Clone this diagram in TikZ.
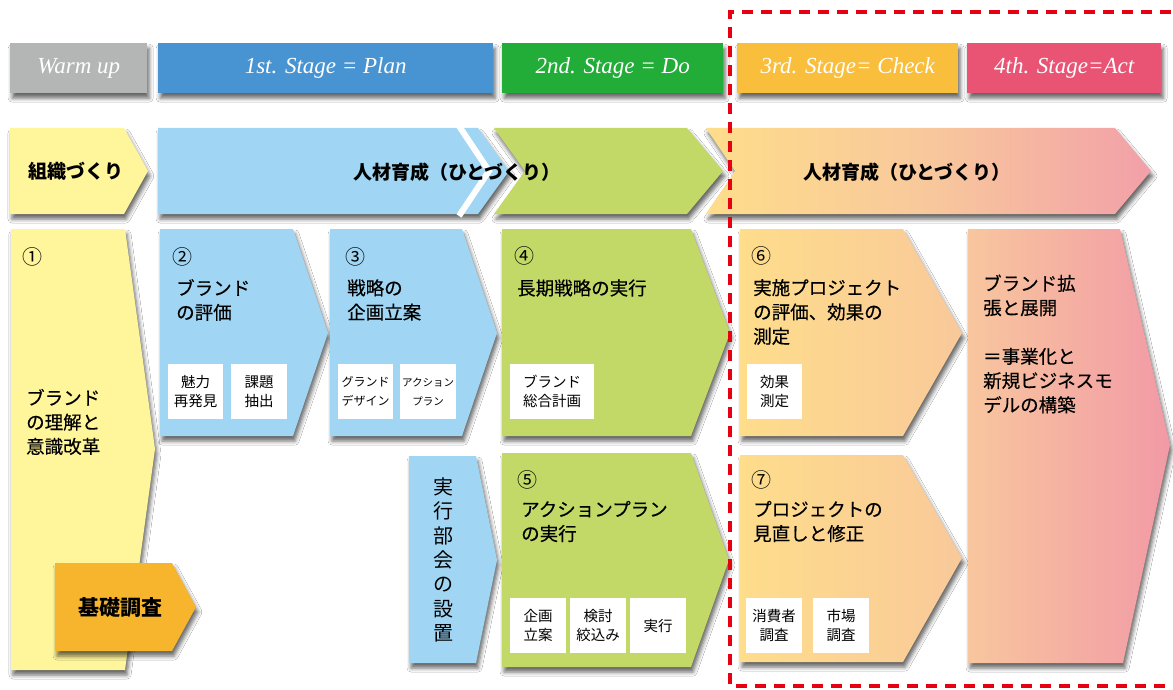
\documentclass[tikz,border=0pt]{standalone}
\usepackage{fontspec}
\setmainfont{Liberation Serif}
\newfontfamily\jp{Noto Sans CJK JP}
\newfontfamily\jpm{Noto Sans CJK JP}[FakeBold=0.35]
\usetikzlibrary{shadows.blur}
\definecolor{hgray}{HTML}{B4B5B5}
\definecolor{hblue}{HTML}{4893D1}
\definecolor{hgreen}{HTML}{22AC38}
\definecolor{horange}{HTML}{F9BE3B}
\definecolor{hpink}{HTML}{E95475}
\definecolor{cyellow}{HTML}{FFF59B}
\definecolor{cblue}{HTML}{A0D6F3}
\definecolor{cgreen}{HTML}{C2D867}
\definecolor{corange}{HTML}{F7B52D}
\definecolor{gyel}{HTML}{FEDD8B}
\definecolor{gmid}{HTML}{F8C89C}
\definecolor{gpink}{HTML}{F2A0A8}
\definecolor{gpeach}{HTML}{F9C99A}
\definecolor{gpeach2}{HTML}{F8C69E}
\definecolor{gpink2}{HTML}{F29AA6}
\definecolor{dashred}{HTML}{E60012}
\begin{document}
\begin{tikzpicture}[x=1pt,y=-1pt,
  shd/.style={blur shadow={shadow xshift=2pt,shadow yshift=-5pt,shadow blur radius=4pt,shadow opacity=60}},
  hdrbox/.style={shd,minimum height=50pt,anchor=north west,inner sep=0pt,text=white,font=\itshape\fontsize{23}{27}\selectfont},
  bandtxt/.style={inner sep=0pt,font=\jp\bfseries\fontsize{19}{23}\selectfont},
  numtxt/.style={anchor=west,inner sep=0pt,font=\jp\fontsize{20}{24}\selectfont},
  ttl/.style={anchor=west,inner sep=0pt,align=left,font=\jpm\fontsize{18.5}{24.3}\selectfont},
  wbox/.style={fill=white,inner sep=0pt,anchor=north west,align=center,minimum height=55pt,font=\jp\fontsize{14.5}{19}\selectfont},
  reddash/.style={draw=dashred,line width=4.5pt,dash pattern=on 11pt off 8pt}
]
\useasboundingbox (0,0) rectangle (1173,690);
\fill[white] (0,0) rectangle (1173,690);

% header row
\node[hdrbox,fill=hgray,minimum width=137pt] (hwarm) at (10,43) {\raisebox{-1.5pt}{Warm up}};
\node[hdrbox,fill=hblue,minimum width=335pt] (hplan) at (158,43) {\raisebox{-1.5pt}{1st. Stage = Plan}};
\node[hdrbox,fill=hgreen,minimum width=221pt] (hdo) at (502,43) {\raisebox{-1.5pt}{2nd. Stage = Do}};
\node[hdrbox,fill=horange,minimum width=221pt] (hcheck) at (737,43) {\raisebox{-1.5pt}{3rd. Stage= Check}};
\node[hdrbox,fill=hpink,minimum width=194pt] (hact) at (967,43) {\raisebox{-1.5pt}{4th. Stage=Act}};

% band row
\path[shd,fill=cyellow] (10,128) -- (124,128) -- (148,171) -- (124,214) -- (10,214) -- cycle;
\node[bandtxt] (soshiki) at (76,171) {組織づくり};
\path[shd,fill=cgreen] (494,128) -- (687,128) -- (723,171) -- (687,214) -- (494,214) -- (525,171) -- cycle;
\path[shd,fill=cblue] (158,128) -- (478,128) -- (509,171) -- (478,214) -- (158,214) -- cycle;
\draw[white,line width=6pt] (459,126) -- (489,171) -- (459,216);
\path[shd,left color=gyel,right color=gpink,middle color=gmid] (706,128) -- (1115,128) -- (1151,171) -- (1115,214) -- (706,214) -- (735,171) -- cycle;
\node[bandtxt] (jinzai1) at (457,172) {人材育成（ひとづくり）};
\node[bandtxt] (jinzai2) at (907,172) {人材育成（ひとづくり）};

% column 1
\path[shd,fill=cyellow] (11,229) -- (125,229) -- (155,449) -- (125,670) -- (11,670) -- cycle;
\node[numtxt] (n1) at (22,257) {①};
\node[ttl] (t1) at (26,422) {ブランド\\の理解と\\意識改革};
\path[shd,fill=corange] (55,563) -- (172,563) -- (196,607) -- (172,651) -- (55,651) -- cycle;
\node[inner sep=0pt,font=\jp\bfseries\fontsize{21}{25}\selectfont] (kiso) at (120,608) {基礎調査};

% box 2
\path[shd,fill=cblue] (160,229) -- (293,229) -- (328,333) -- (293,436) -- (160,436) -- cycle;
\node[numtxt] (n2) at (172,257) {②};
\node[ttl] (t2) at (176,300) {ブランド\\の評価};
\node[wbox,minimum width=55pt] (w21) at (168,364) {魅力\\再発見};
\node[wbox,minimum width=56pt] (w22) at (231,364) {課題\\抽出};

% box 3
\path[shd,fill=cblue] (330,229) -- (462,229) -- (497,333) -- (462,436) -- (330,436) -- cycle;
\node[numtxt] (n3) at (345,257) {③};
\node[ttl] (t3) at (347,300) {戦略の\\企画立案};
\node[wbox,minimum width=55pt,font=\jp\fontsize{12}{19}\selectfont] (w31) at (338,364) {グランド\\デザイン};
\node[wbox,minimum width=56pt,font=\jp\fontsize{10.5}{19}\selectfont] (w32) at (400,364) {アクション\\プラン};

% bukai
\path[shd,fill=cblue] (409,456) -- (476,456) -- (497,560) -- (476,663) -- (409,663) -- cycle;
\node[inner sep=0pt,align=center,font=\jp\fontsize{20}{24.3}\selectfont] (bukai) at (443,560) {実\\行\\部\\会\\の\\設\\置};

% box 4
\path[shd,fill=cgreen] (502,229) -- (691,229) -- (730,333) -- (691,436) -- (502,436) -- cycle;
\node[numtxt] (n4) at (514,256) {④};
\node[ttl] (t4) at (517,288) {長期戦略の実行};
\node[wbox,minimum width=84pt] (w41) at (510,364) {ブランド\\総合計画};

% box 5
\path[shd,fill=cgreen] (502,453) -- (691,453) -- (729,560) -- (691,667) -- (502,667) -- cycle;
\node[numtxt] (n5) at (517,480) {⑤};
\node[ttl] (t5) at (521,521.5) {アクションプラン\\の実行};
\node[wbox,minimum width=56pt] (w51) at (510,598) {企画\\立案};
\node[wbox,minimum width=56pt] (w52) at (570,598) {検討\\絞込み};
\node[wbox,minimum width=56pt] (w53) at (630,598) {実行};

% box 6
\path[shd,left color=gyel,right color=gpeach] (740,229) -- (903,229) -- (962,333) -- (903,436) -- (740,436) -- cycle;
\node[numtxt] (n6) at (751,256) {⑥};
\node[ttl] (t6) at (753,312) {実施プロジェクト\\の評価、効果の\\測定};
\node[wbox,minimum width=55pt] (w61) at (747,364) {効果\\測定};

% box 7
\path[shd,left color=gyel,right color=gpeach] (740,455) -- (903,455) -- (962,558) -- (903,662) -- (740,662) -- cycle;
\node[numtxt] (n7) at (751,480) {⑦};
\node[ttl] (t7) at (753,521.5) {プロジェクトの\\見直しと修正};
\node[wbox,minimum width=56pt] (w71) at (746,598) {消費者\\調査};
\node[wbox,minimum width=56pt] (w72) at (813,598) {市場\\調査};

% big box
\path[shd,left color=gpeach2,right color=gpink2] (968,229) -- (1120,229) -- (1170,445) -- (1123,663) -- (968,663) -- cycle;
\node[ttl] (t8) at (983,344) {ブランド拡\\張と展開\\\strut\\＝事業化と\\新規ビジネスモ\\デルの構築};

% red dashed frame
\draw[reddash] (1190,12) -- (730,12) -- (730,686) -- (1190,686);
\end{tikzpicture}
\end{document}
